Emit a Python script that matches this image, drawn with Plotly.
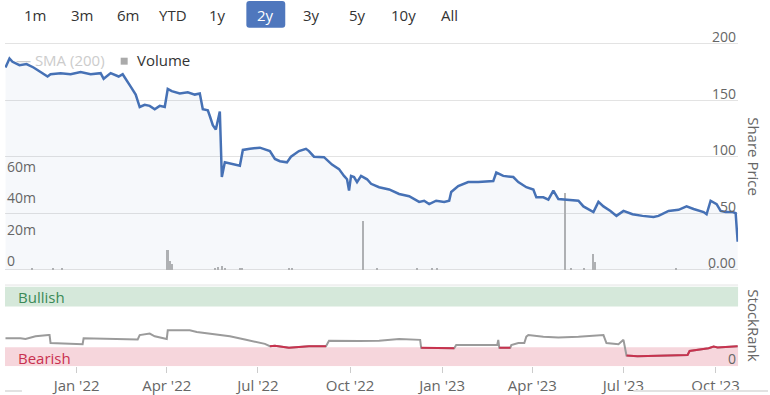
import plotly.graph_objects as go

# ---------------- data ----------------
price_dates = [
    "2021-10-22", "2021-10-26", "2021-10-29", "2021-11-05", "2021-11-12", "2021-11-19", "2021-11-26",
    "2021-12-03", "2021-12-06", "2021-12-16", "2021-12-26", "2022-01-05", "2022-01-15", "2022-01-25",
    "2022-01-28", "2022-02-04", "2022-02-12", "2022-02-16", "2022-02-24", "2022-03-01", "2022-03-05",
    "2022-03-10", "2022-03-15", "2022-03-20", "2022-03-25", "2022-03-30", "2022-04-02", "2022-04-06",
    "2022-04-14", "2022-04-22", "2022-04-29", "2022-05-04", "2022-05-07", "2022-05-12", "2022-05-14",
    "2022-05-17", "2022-05-20", "2022-05-24", "2022-05-26", "2022-05-29", "2022-06-13", "2022-06-16",
    "2022-06-23", "2022-07-03", "2022-07-13", "2022-07-18", "2022-07-23", "2022-07-30", "2022-08-03",
    "2022-08-11", "2022-08-18", "2022-08-21", "2022-08-26", "2022-09-05", "2022-09-13", "2022-09-20",
    "2022-09-25", "2022-09-28", "2022-09-30", "2022-10-02", "2022-10-05", "2022-10-08", "2022-10-12",
    "2022-10-18", "2022-10-22", "2022-10-30", "2022-11-09", "2022-11-19", "2022-11-29", "2022-12-04",
    "2022-12-09", "2022-12-14", "2022-12-19", "2022-12-26", "2023-01-03", "2023-01-08", "2023-01-10",
    "2023-01-17", "2023-01-27", "2023-02-06", "2023-02-21", "2023-02-24", "2023-03-03", "2023-03-13",
    "2023-03-18", "2023-03-26", "2023-04-02", "2023-04-05", "2023-04-12", "2023-04-17", "2023-04-22",
    "2023-04-27", "2023-05-07", "2023-05-17", "2023-05-22", "2023-06-01", "2023-06-06", "2023-06-11",
    "2023-06-18", "2023-06-24", "2023-07-01", "2023-07-10", "2023-07-20", "2023-07-31", "2023-08-05",
    "2023-08-15", "2023-08-25", "2023-09-02", "2023-09-09", "2023-09-19", "2023-09-22", "2023-09-26",
    "2023-10-02", "2023-10-06", "2023-10-11", "2023-10-18", "2023-10-21", "2023-10-23",
]
price_values = [
    179, 187, 184, 181, 182, 179, 175,
    171, 173, 174, 173, 175, 173, 174,
    169, 174, 171, 173, 162, 155, 144,
    146, 145, 142, 145, 144, 160, 158,
    156, 157, 155, 156, 142, 141, 136,
    128, 124, 140, 82, 95, 92, 106,
    107, 108, 105, 98, 96, 95, 100,
    105, 107, 105, 100, 99.6, 93, 89,
    83, 80, 70, 83, 82, 77.5, 83,
    80, 76, 73, 71, 67, 65, 62.5,
    60, 61, 58, 61, 60, 61, 68.7,
    74, 77.5, 77.5, 78.4, 86, 83, 82,
    77.5, 73, 71, 64, 64, 62, 70,
    62.5, 61.7, 61, 56, 51, 60, 56,
    52, 47.6, 52, 49, 47.6, 46.7, 47.6,
    52, 53, 56, 53.7, 51, 49, 61,
    58, 52, 51, 51, 50, 24.7,
]

volume_dates = [
    "2021-11-18", "2021-12-09", "2021-12-18", "2022-04-02", "2022-04-04", "2022-04-06",
    "2022-05-19", "2022-05-22", "2022-05-26", "2022-05-29", "2022-06-13", "2022-06-15",
    "2022-08-01", "2022-08-04", "2022-10-14", "2022-10-28", "2022-12-07", "2022-12-22",
    "2022-12-27", "2023-05-04", "2023-05-10", "2023-05-23", "2023-06-01", "2023-06-03",
    "2023-08-23", "2023-09-26",
]
volume_values = [
    0.8e6, 0.8e6, 0.8e6, 12.6e6, 6e6, 4e6,
    1.5e6, 2e6, 2.5e6, 1.5e6, 1.5e6, 1.5e6,
    1e6, 1e6, 31e6, 1e6, 1e6, 1e6,
    1e6, 49e6, 1.5e6, 1.5e6, 10e6, 5e6,
    1.5e6, 1e6,
]

rank_dates = [
    "2021-10-22", "2021-11-06", "2021-11-11", "2021-11-21", "2021-12-04", "2021-12-05", "2021-12-06",
    "2021-12-26", "2022-01-07", "2022-01-08", "2022-02-08", "2022-02-24", "2022-03-03", "2022-03-05",
    "2022-03-15", "2022-03-20", "2022-03-30", "2022-04-01", "2022-04-02", "2022-04-24", "2022-05-01",
    "2022-05-14", "2022-06-03", "2022-06-18", "2022-06-28", "2022-07-08", "2022-07-13", "2022-07-18",
    "2022-08-01", "2022-08-21", "2022-09-07", "2022-09-10", "2022-10-10", "2022-10-30", "2022-11-19",
    "2022-12-09", "2022-12-10", "2022-12-11", "2022-12-29", "2023-01-13", "2023-01-15", "2023-02-16",
    "2023-02-25", "2023-02-26", "2023-02-27", "2023-03-10", "2023-03-11", "2023-03-18", "2023-03-24",
    "2023-03-26", "2023-03-28", "2023-04-12", "2023-04-27", "2023-05-17", "2023-06-11", "2023-06-14",
    "2023-06-26", "2023-07-01", "2023-07-04", "2023-07-15", "2023-09-03", "2023-09-05", "2023-09-24",
    "2023-09-29", "2023-10-03", "2023-10-23",
]
rank_values = [
    35, 35, 34, 37.5, 39, 39, 29,
    27.5, 27.5, 35, 34, 33, 33.5, 39,
    41, 37.5, 34, 34, 45, 45, 43,
    41, 37.5, 33.5, 31, 28, 25, 25.5,
    23, 25, 25, 32, 31.5, 32, 34,
    33, 33, 23, 22.5, 22.5, 26.5, 26.5,
    27, 33, 23, 23, 26.5, 29, 29,
    37, 39, 37, 36, 37, 39, 29,
    27.5, 33, 13.3, 12.5, 14, 19, 22.5,
    24.5, 23.5, 25,
]

price_ticks = [0, 50, 100, 150, 200]
price_tick_labels = ["0.00", "50", "100", "150", "200"]
volume_ticks = [0, 20e6, 40e6, 60e6]
volume_tick_labels = ["0", "20m", "40m", "60m"]
rank_ticks = [0]
rank_tick_labels = ["0"]
range_buttons = ["1m", "3m", "6m", "YTD", "1y", "2y", "3y", "5y", "10y", "All"]
selected_button = "2y"
bearish_band = (0, 23.75)
bullish_band = (75, 100)
bearish_threshold = 26

# ---------------- layout helpers ----------------
W, H = 770, 395
def px(x):
    return x / W
def py(y):
    return 1 - y / H

X0, X1 = 5, 740
x_range = ["2021-10-21 12:00", "2023-10-23 10:00"]
button_centers = [35, 82, 128, 173, 218, 266, 312, 358, 405, 451]
PRICE_TOP_PX, PRICE_BOTTOM_PX = 42.86, 272.14   # pixel rows of price -1 .. 201
price_range = [-1, 201]
volume_range = [-0.72e6, 144e6]

FONT = "Open Sans"
LABEL = "#666666"
BLUE = "#4671b5"
GRAY_LINE = "#9b9b9b"
RED_LINE = "#c8324e"
GRID = "#e3e3e3"

fig = go.Figure()

fig.add_trace(go.Bar(
    x=volume_dates, y=volume_values, yaxis="y", xaxis="x", base=0,
    marker=dict(color="#b4b4b4", line=dict(width=0)),
    width=86400000 * 1.6, name="Volume", showlegend=False,
))
fig.add_trace(go.Scatter(
    x=price_dates, y=price_values, yaxis="y2", xaxis="x", mode="lines",
    line=dict(color=BLUE, width=2.5), fill="tozeroy",
    fillcolor="rgba(70,113,181,0.05)", name="Share Price", showlegend=False,
))
fig.add_trace(go.Scatter(
    x=rank_dates, y=rank_values, yaxis="y3", xaxis="x", mode="lines",
    line=dict(color=GRAY_LINE, width=2), showlegend=False,
))
red_values = [v if v < bearish_threshold else None for v in rank_values]
fig.add_trace(go.Scatter(
    x=rank_dates, y=red_values, yaxis="y3", xaxis="x", mode="lines",
    line=dict(color=RED_LINE, width=2), connectgaps=False, showlegend=False,
))

shapes = [
    dict(type="rect", xref="x domain", yref="y3", x0=0, x1=1,
         y0=bearish_band[0], y1=bearish_band[1], fillcolor="#f6d6dc", line=dict(width=0), layer="below"),
    dict(type="rect", xref="x domain", yref="y3", x0=0, x1=1,
         y0=bullish_band[0], y1=bullish_band[1], fillcolor="#d5e8da", line=dict(width=0), layer="below"),
    dict(type="line", xref="paper", yref="paper", x0=px(X0), x1=px(X1), y0=py(286.5), y1=py(286.5),
         line=dict(color=GRID, width=1)),
    dict(type="rect", xref="paper", yref="paper", x0=px(5), x1=px(22), y0=py(394), y1=py(392),
         fillcolor="#e2e2e2", line=dict(width=0)),
    dict(type="rect", xref="paper", yref="paper", x0=px(635), x1=px(770), y0=py(394), y1=py(392),
         fillcolor="#e2e2e2", line=dict(width=0)),
    # legend marker for Volume
    dict(type="rect", xref="paper", yref="paper", x0=px(121), x1=px(128), y0=py(65), y1=py(58),
         fillcolor="#aaaaaa", line=dict(width=0)),
]

# selected button background (rounded)
bx0, bx1, by0, by1 = 247, 286, 1, 28
r = 3
path = (f"M {px(bx0 + r)} {py(by0)} L {px(bx1 - r)} {py(by0)} Q {px(bx1)} {py(by0)} {px(bx1)} {py(by0 + r)} "
        f"L {px(bx1)} {py(by1 - r)} Q {px(bx1)} {py(by1)} {px(bx1 - r)} {py(by1)} "
        f"L {px(bx0 + r)} {py(by1)} Q {px(bx0)} {py(by1)} {px(bx0)} {py(by1 - r)} "
        f"L {px(bx0)} {py(by0 + r)} Q {px(bx0)} {py(by0)} {px(bx0 + r)} {py(by0)} Z")
shapes.append(dict(type="path", xref="paper", yref="paper", path=path,
                   fillcolor="#4f77bd", line=dict(width=0)))

annotations = []
for label, cx in zip(range_buttons, button_centers):
    annotations.append(dict(
        text=label, x=px(cx), y=py(15), xref="paper", yref="paper",
        xanchor="center", yanchor="middle", showarrow=False,
        font=dict(size=15, color="#ffffff" if label == selected_button else "#333333", family=FONT),
    ))

# axis tick labels, placed through the axes' own scales
for v, t in zip(price_ticks, price_tick_labels):
    annotations.append(dict(text=t, x=1, y=v, xref="x domain", yref="y2", xanchor="right",
                            yanchor="middle", yshift=7, showarrow=False,
                            font=dict(size=14, color=LABEL, family=FONT)))
for v, t in zip(volume_ticks, volume_tick_labels):
    annotations.append(dict(text=t, x=0, y=v, xref="x domain", yref="y", xanchor="left",
                            yanchor="middle", yshift=9, showarrow=False,
                            font=dict(size=14, color=LABEL, family=FONT)))
for v, t in zip(rank_ticks, rank_tick_labels):
    annotations.append(dict(text=t, x=1, y=v, xref="x domain", yref="y3", xanchor="right",
                            yanchor="middle", yshift=8, showarrow=False,
                            font=dict(size=14, color=LABEL, family=FONT)))

annotations += [
    dict(text="— SMA (200)", x=px(14), y=py(60), xref="paper", yref="paper", xanchor="left",
         yanchor="middle", showarrow=False, font=dict(size=15, color="#cccccc", family=FONT)),
    dict(text="Volume", x=px(135), y=py(60), xref="paper", yref="paper", xanchor="left",
         yanchor="middle", showarrow=False, font=dict(size=15, color="#333333", family=FONT)),
    dict(text="Share Price", x=px(756), y=py(157), xref="paper", yref="paper", xanchor="center",
         yanchor="middle", textangle=90, showarrow=False, font=dict(size=15, color=LABEL, family=FONT)),
    dict(text="StockRank", x=px(756), y=py(327), xref="paper", yref="paper", xanchor="center",
         yanchor="middle", textangle=90, showarrow=False, font=dict(size=15, color=LABEL, family=FONT)),
    dict(text="Bullish", x=px(16), y=py(299), xref="paper", yref="paper", xanchor="left",
         yanchor="middle", showarrow=False, font=dict(size=15, color="#3b8a57", family=FONT)),
    dict(text="Bearish", x=px(16), y=py(360), xref="paper", yref="paper", xanchor="left",
         yanchor="middle", showarrow=False, font=dict(size=15, color="#c9304f", family=FONT)),
]

fig.update_layout(
    width=W, height=H, margin=dict(l=0, r=0, t=0, b=0),
    paper_bgcolor="white", plot_bgcolor="white",
    font=dict(family=FONT, size=14, color=LABEL),
    showlegend=False, bargap=0,
    shapes=shapes, annotations=annotations,
    xaxis=dict(
        domain=[px(X0), px(X1)], range=x_range, type="date", anchor="y3",
        tick0="2022-01-01", dtick="M3", tickformat="%b '%y",
        ticks="outside", ticklen=6, tickcolor="#cccccc", tickwidth=1,
        showgrid=False, zeroline=False, showline=False,
        tickfont=dict(size=15, color=LABEL, family=FONT),
    ),
    yaxis=dict(
        domain=[py(PRICE_BOTTOM_PX), py(PRICE_TOP_PX)], range=volume_range, anchor="x", side="left",
        tickvals=volume_ticks, showticklabels=False, ticks="",
        showgrid=False, zeroline=False, showline=False,
    ),
    yaxis2=dict(
        overlaying="y", range=price_range, anchor="x", side="right",
        tickvals=price_ticks, showticklabels=False, ticks="",
        showgrid=True, gridcolor=GRID, gridwidth=1, zeroline=False, showline=False,
    ),
    yaxis3=dict(
        domain=[py(368), py(288)], range=[0, 100], anchor="x", side="right",
        tickvals=rank_ticks, showticklabels=False, ticks="",
        showgrid=False, zeroline=False, showline=False,
    ),
)

fig.write_html(
    "out.html",
    config={"displayModeBar": False},
    post_script="document.body.style.margin='0';document.body.style.overflow='hidden';",
)
